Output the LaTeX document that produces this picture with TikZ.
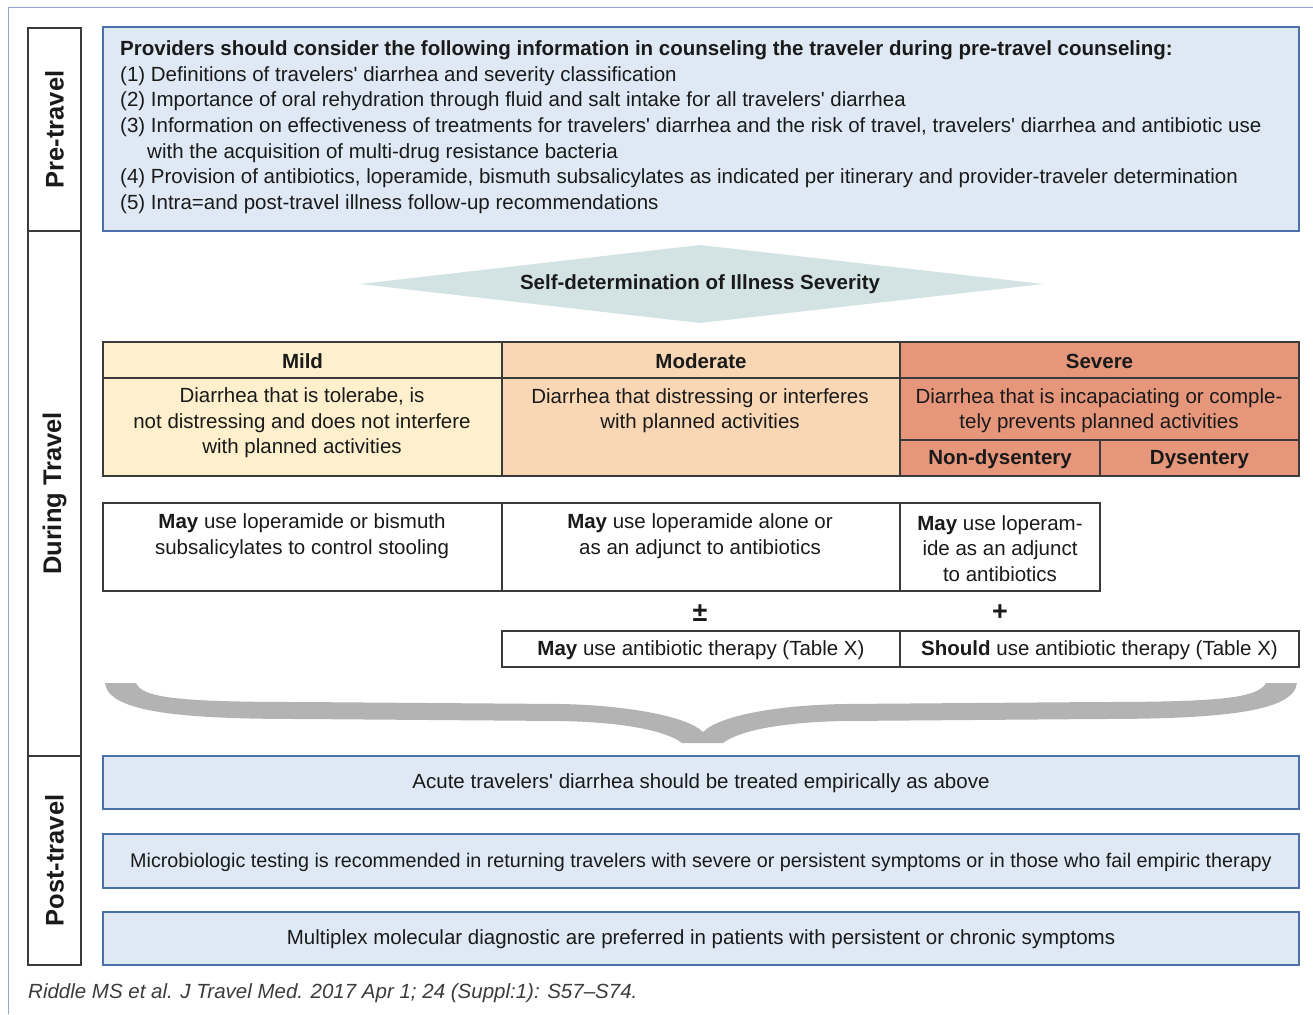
\documentclass[tikz,border=0pt]{standalone}
\usepackage{fontspec}
\setmainfont{Liberation Sans}
\definecolor{frameblue}{HTML}{8FA8CC}
\definecolor{boxblue}{HTML}{DEE9F5}
\definecolor{boxedge}{HTML}{4A72A8}
\definecolor{diam}{HTML}{D3E3E3}
\definecolor{mild}{HTML}{FEF0CC}
\definecolor{moder}{HTML}{F9D7B5}
\definecolor{sev}{HTML}{E6967B}
\definecolor{bracegray}{HTML}{B3B3B3}
\definecolor{ink}{HTML}{1A1A1A}
\definecolor{gridc}{HTML}{3A3A3A}
\newcommand\myfs{\fontsize{20.5}{25.5}\selectfont}
\newcommand\apo{\textquotesingle{}}
\begin{document}
\begin{tikzpicture}[x=1pt,y=-1pt,
 cell/.style={draw=gridc, line width=1.3pt, inner sep=0pt, outer sep=0pt, anchor=north west},
 bluebox/.style={draw=boxedge, fill=boxblue, line width=1.2pt, inner sep=0pt, outer sep=0pt, anchor=north west},
 txt/.style={inner sep=0pt, text=ink, font=\myfs, align=center},
 ltxt/.style={inner sep=0pt, text=ink, font=\myfs, anchor=west},
 hdr/.style={inner sep=0pt, text=ink, font=\myfs\bfseries},
 side/.style={inner sep=0pt, rotate=90, font=\fontsize{25.5}{30}\selectfont\bfseries, text=ink}
]
\useasboundingbox (0,0) rectangle (1313,1014);
\fill[white] (0,0) rectangle (1313,1014);
% outer frame
\draw[frameblue, line width=1pt] (8,1014) -- (8,8) -- (1313,8);

% side column
\node[cell, minimum width=53pt, minimum height=203pt] (colpre) at (28,28) {};
\node[cell, minimum width=53pt, minimum height=525pt] (coldur) at (28,231) {};
\node[cell, minimum width=53pt, minimum height=209pt] (colpost) at (28,756) {};
\node[side] (lpre) at (colpre.center) {Pre-travel};
\node[side] (ldur) at (coldur.center) {During Travel};
\node[side] (lpost) at (colpost.center) {Post-travel};

% pre-travel box
\node[bluebox, minimum width=1196pt, minimum height=204pt] (pre) at (103,27) {};
\node[ltxt, font=\myfs\bfseries] (p0) at (120,50) {Providers should consider the following information in counseling the traveler during pre-travel counseling:};
\node[ltxt] (p1) at (120,76) {(1) Definitions of travelers\apo\ diarrhea and severity classification};
\node[ltxt] (p2) at (120,101.5) {(2) Importance of oral rehydration through fluid and salt intake for all travelers\apo\ diarrhea};
\node[ltxt] (p3) at (120,127) {(3) Information on effectiveness of treatments for travelers\apo\ diarrhea and the risk of travel, travelers\apo\ diarrhea and antibiotic use};
\node[ltxt] (p3b) at (147,153) {with the acquisition of multi-drug resistance bacteria};
\node[ltxt] (p4) at (120,178.5) {(4) Provision of antibiotics, loperamide, bismuth subsalicylates as indicated per itinerary and provider-traveler determination};
\node[ltxt] (p5) at (120,204) {(5) Intra=and post-travel illness follow-up recommendations};

% diamond
\fill[diam] (360,284) -- (700,245) -- (1043,284) -- (700,323) -- cycle;
\node[hdr] (dtxt) at (700,284) {Self-determination of Illness Severity};

% severity table
\node[cell, fill=mild, minimum width=399pt, minimum height=36pt] (hmild) at (103,342) {};
\node[cell, fill=moder, minimum width=398pt, minimum height=36pt] (hmod) at (502,342) {};
\node[cell, fill=sev, minimum width=399pt, minimum height=36pt] (hsev) at (900,342) {};
\node[cell, fill=mild, minimum width=399pt, minimum height=98pt] (bmild) at (103,378) {};
\node[cell, fill=moder, minimum width=398pt, minimum height=98pt] (bmod) at (502,378) {};
\node[cell, fill=sev, minimum width=399pt, minimum height=62pt] (bsev) at (900,378) {};
\node[cell, fill=sev, minimum width=200pt, minimum height=36pt] (nondys) at (900,440) {};
\node[cell, fill=sev, minimum width=199pt, minimum height=36pt] (dys) at (1100,440) {};
\node[hdr] at ([yshift=-1pt]hmild.center) {Mild};
\node[hdr] at ([yshift=-1pt]hmod.center) {Moderate};
\node[hdr] at ([yshift=-1pt]hsev.center) {Severe};
\node[txt] (tmild) at (302,423) {Diarrhea that is tolerabe, is\\not distressing and does not interfere\\with planned activities};
\node[txt] (tmod) at (700,410.5) {Diarrhea that distressing or interferes\\with planned activities};
\node[txt] (tsev) at (1099,410.5) {Diarrhea that is incapaciating or comple-\\tely prevents planned activities};
\node[hdr] at ([yshift=-1.5pt]nondys.center) {Non-dysentery};
\node[hdr] at ([yshift=-1.5pt]dys.center) {Dysentery};

% treatment boxes
\node[cell, minimum width=399pt, minimum height=88pt] (rmild) at (103,503) {};
\node[cell, minimum width=398pt, minimum height=88pt] (rmod) at (502,503) {};
\node[cell, minimum width=200pt, minimum height=88pt] (rsev) at (900,503) {};
\node[txt] (xmild) at (302,536) {\textbf{May} use loperamide or bismuth\\subsalicylates to control stooling};
\node[txt] (xmod) at (700,536) {\textbf{May} use loperamide alone or\\as an adjunct to antibiotics};
\node[txt] (xsev) at (1000,548.5) {\textbf{May} use loperam-\\ide as an adjunct\\to antibiotics};

\node[inner sep=0pt, text=ink, font=\fontsize{27}{30}\selectfont\bfseries] (pm) at (700,613) {±};
\node[inner sep=0pt, text=ink, font=\fontsize{27}{30}\selectfont\bfseries] (pl) at (1000,613) {+};

\node[cell, minimum width=398pt, minimum height=36pt] (amay) at (502,631) {};
\node[cell, minimum width=399pt, minimum height=36pt] (ashould) at (900,631) {};
\node[txt] at ([yshift=-1pt]amay.center) {\textbf{May} use antibiotic therapy (Table X)};
\node[txt] at ([yshift=-1pt]ashould.center) {\textbf{Should} use antibiotic therapy (Table X)};

% brace
\fill[bracegray] (105,683) .. controls (108,712) and (180,719) .. (300,719) -- (560,721)
  .. controls (620,722) and (665,730) .. (682,743) -- (723,743)
  .. controls (740,730) and (785,722) .. (845,721) -- (1100,719)
  .. controls (1220,719) and (1294,712) .. (1297,683) -- (1266,683)
  .. controls (1258,698) and (1220,702) .. (1100,702) -- (845,704)
  .. controls (780,705) and (720,715) .. (703,732)
  .. controls (686,715) and (620,705) .. (560,704) -- (300,702)
  .. controls (180,702) and (142,698) .. (136,683) -- cycle;

% post-travel boxes
\node[bluebox, minimum width=1196pt, minimum height=53pt] (q1) at (103,756) {};
\node[bluebox, minimum width=1196pt, minimum height=54pt] (q2) at (103,834) {};
\node[bluebox, minimum width=1196pt, minimum height=53pt] (q3) at (103,912) {};
\node[txt] at ([yshift=-1pt]q1.center) {Acute travelers\apo\ diarrhea should be treated empirically as above};
\node[txt, font=\fontsize{19.75}{25.5}\selectfont] at ([yshift=-1pt]q2.center) {Microbiologic testing is recommended in returning travelers with severe or persistent symptoms or in those who fail empiric therapy};
\node[txt] at ([yshift=-1pt]q3.center) {Multiplex molecular diagnostic are preferred in patients with persistent or chronic symptoms};

% citation
\node[inner sep=0pt, anchor=west, text=ink!85, font=\fontsize{20.5}{24}\selectfont\itshape] (cite) at (28,993) {Riddle MS et al. J Travel Med. 2017 Apr 1; 24 (Suppl:1): S57–S74.};
\end{tikzpicture}
\end{document}
